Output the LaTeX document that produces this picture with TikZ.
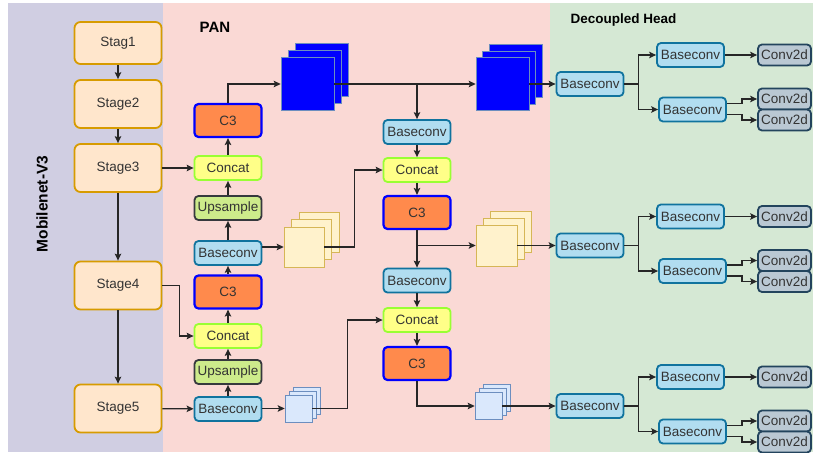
\documentclass[tikz,border=0pt]{standalone}
\usepackage{fontspec}
\setmainfont{Liberation Sans}
\usetikzlibrary{arrows.meta, positioning}

\definecolor{bbfill}{HTML}{D0CEE2}
\definecolor{panfill}{HTML}{FAD9D5}
\definecolor{headfill}{HTML}{D5E8D4}
\definecolor{stfill}{HTML}{FFE6CC}
\definecolor{stline}{HTML}{D79B00}
\definecolor{bcfill}{HTML}{B1DDF0}
\definecolor{bcline}{HTML}{10739E}
\definecolor{catfill}{HTML}{FFFF88}
\definecolor{catline}{HTML}{99FF33}
\definecolor{upfill}{HTML}{CDEB8B}
\definecolor{upline}{HTML}{36393D}
\definecolor{cfill}{HTML}{FF8A4C}
\definecolor{convfill}{HTML}{BAC8D3}
\definecolor{convline}{HTML}{23445D}
\definecolor{mapline}{HTML}{6C8EBF}
\definecolor{ylwfill}{HTML}{FFF2CC}
\definecolor{ylwline}{HTML}{D6B656}
\definecolor{lbfill}{HTML}{DAE8FC}
\definecolor{txt}{HTML}{333333}

% three stacked feature maps, front one named #1
\newcommand{\stack}[6]{%
  \node[#6, minimum size=#4pt] (#1c) at (#2+2*#5, #3-2*#5) {};
  \node[#6, minimum size=#4pt] (#1b) at (#2+#5, #3-#5) {};
  \node[#6, minimum size=#4pt] (#1) at (#2, #3) {};}

\tikzset{
  box/.style={rounded corners=4pt, line width=1.8pt, text=txt, inner sep=1pt,
    font=\fontsize{13.5}{16}\selectfont},
  stage/.style={box, draw=stline, fill=stfill, rounded corners=6pt,
    minimum width=87pt, minimum height=48pt},
  bconv/.style={box, draw=bcline, fill=bcfill, minimum width=67pt, minimum height=24pt},
  cat/.style={box, draw=catline, fill=catfill, minimum width=67pt, minimum height=24pt},
  ups/.style={box, draw=upline, fill=upfill, minimum width=67pt, minimum height=24pt},
  cthree/.style={box, draw=blue, fill=cfill, line width=2.2pt, minimum width=67pt, minimum height=33pt},
  conv/.style={box, draw=convline, fill=convfill, minimum width=53pt, minimum height=21pt},
  bigmap/.style={draw=mapline, fill=blue, line width=0.6pt, inner sep=0pt},
  midmap/.style={draw=ylwline, fill=ylwfill, line width=0.6pt, inner sep=0pt},
  smallmap/.style={draw=mapline, fill=lbfill, line width=0.6pt, inner sep=0pt},
  arr/.style={-{Stealth[length=7pt, width=6.5pt, inset=1.5pt]}, line width=1.3pt, draw=black!85},
  title/.style={font=\bfseries\fontsize{#1}{18}\selectfont}
}

\begin{document}
\begin{tikzpicture}[x=1pt, y=-1pt]
  \useasboundingbox (0,0) rectangle (813,452);
  % panels
  \fill[bbfill] (8,3) rectangle (163,452);
  \fill[panfill] (163,3) rectangle (550,452);
  \fill[headfill] (550,3) rectangle (813,452);
  \node[title=15] (pan) at (215,27) {PAN};
  \node[title=13.5, anchor=west] (dhead) at (567,20) {Decoupled Head};
  \node[title=15.5, rotate=90] (bbone) at (42,204) {Mobilenet-V3};

  % backbone
  \node[stage, minimum height=42pt] (s1) at (118,43) {Stag1};
  \node[stage] (s2) at (118,104) {Stage2};
  \node[stage] (s3) at (118,168) {Stage3};
  \node[stage] (s4) at (118,285.5) {Stage4};
  \node[stage] (s5) at (118,408.5) {Stage5};

  % PAN, up path
  \node[cthree] (c3a) at (228,120.5) {C3};
  \node[cat] (cata) at (228,168) {Concat};
  \node[ups] (upa) at (228,208) {Upsample};
  \node[bconv] (bca) at (228,253) {Baseconv};
  \node[cthree] (c3b) at (228,292) {C3};
  \node[cat] (catb) at (228,336) {Concat};
  \node[ups] (upb) at (228,372) {Upsample};
  \node[bconv] (bcb) at (228,409) {Baseconv};

  % PAN, down path
  \node[bconv] (bcc) at (417,132) {Baseconv};
  \node[cat] (catc) at (417,170) {Concat};
  \node[cthree] (c3c) at (417,212.5) {C3};
  \node[bconv] (bcd) at (417,280.5) {Baseconv};
  \node[cat] (catd) at (417,320) {Concat};
  \node[cthree] (c3d) at (417,363.5) {C3};

  % feature maps
  \stack{fa}{307.5}{84}{53}{7}{bigmap}
  \stack{fb}{502.5}{84}{53}{6.5}{bigmap}
  \stack{ma}{304}{247}{40}{7.5}{midmap}
  \stack{mb}{496.5}{245.5}{41}{7}{midmap}
  \stack{sa}{298.5}{408.5}{27}{4}{smallmap}
  \stack{sb}{488.5}{406}{27}{4}{smallmap}

  \draw[arr] (s1) -- (s2);
  \draw[arr] (s2) -- (s3);
  \draw[arr] (s3) -- (s4);
  \draw[arr] (s4) -- (s5);
  \draw[arr] (s3) -- (cata);
  \draw[arr] (s4.east) -- ++(17,0) |- (catb.west);
  \draw[arr] (s5) -- (bcb);
  \draw[arr] (bcb) -- (upb);
  \draw[arr] (upb) -- (catb);
  \draw[arr] (catb) -- (c3b);
  \draw[arr] (c3b) -- (bca);
  \draw[arr] (bca) -- (upa);
  \draw[arr] (upa) -- (cata);
  \draw[arr] (cata) -- (c3a);
  \draw[arr] (c3a.north) |- (fa.west);
  \draw[arr] (fa.east) -- (fb.west);
  \draw[arr] (bcc |- fa.east) -- (bcc.north);
  \draw[arr] (bcc) -- (catc);
  \draw[arr] (catc) -- (c3c);
  \draw[arr] (c3c) -- (bcd);
  \draw[arr] (bca.east |- ma.west) -- (ma.west);
  \draw[arr] (ma.east) -- ++(30,0) |- (catc.west);
  \draw[arr] (c3c |- mb.west) -- (mb.west);
  \draw[arr] (bcd) -- (catd);
  \draw[arr] (catd) -- (c3d);
  \draw[arr] (bcb.east |- sa.west) -- (sa.west);
  \draw[arr] (sa.east) -- ++(35,0) |- (catd.west);
  \draw[arr] (c3d.south) |- (sb.west);

  % heads
  \foreach \i/\y in {1/84, 2/245.5, 3/406} {
    \node[bconv] (h\i) at (590,\y) {Baseconv};
    \node[bconv] (ht\i) at (690.5,\y-29) {Baseconv};
    \node[bconv] (hl\i) at (692.5,\y+25.5) {Baseconv};
    \node[conv] (ct\i) at (784.5,\y-29) {Conv2d};
    \node[conv] (ca\i) at (784.5,\y+15) {Conv2d};
    \node[conv] (cb\i) at (784.5,\y+36) {Conv2d};
    \draw[arr] (h\i.east) -- ++(14,0) |- (ht\i.west);
    \draw[arr] (h\i.east) -- ++(14,0) |- (hl\i.west);
    \draw[arr] (ht\i) -- (ct\i);
    \draw[arr] ([yshift=6pt]hl\i.east) -- ++(15,0) |- (ca\i.west);
    \draw[arr] ([yshift=-5pt]hl\i.east) -- ++(15,0) |- (cb\i.west);
  }
  \draw[arr] (fb.east) -- (h1.west);
  \draw[arr] (mb.east) -- (h2.west);
  \draw[arr] (sb.east) -- (h3.west);
\end{tikzpicture}
\end{document}
